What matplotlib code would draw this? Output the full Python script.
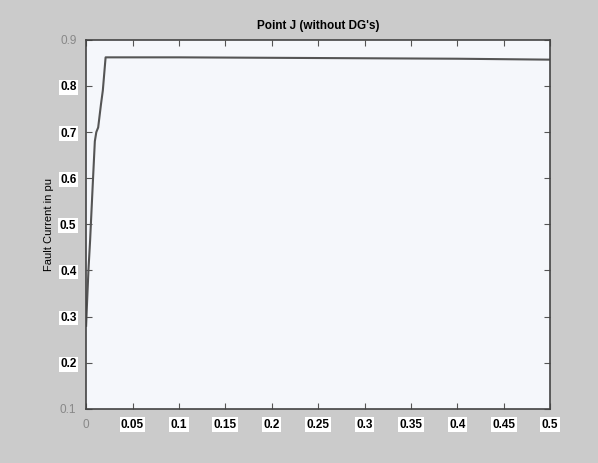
import matplotlib.pyplot as plt
import numpy as np

plt.rcParams['font.family'] = ['Liberation Sans', 'DejaVu Sans']

# fault current at point J, no distributed generation
time_s = [0.0, 0.001, 0.0025, 0.0043, 0.007, 0.0094, 0.011, 0.013, 0.016, 0.018, 0.021, 0.1, 0.2, 0.3, 0.4, 0.5]
current_pu = [0.28, 0.33, 0.40, 0.465, 0.58, 0.68, 0.70, 0.71, 0.76, 0.79, 0.862, 0.862, 0.861, 0.860, 0.859, 0.857]

xticks = [0, 0.05, 0.1, 0.15, 0.2, 0.25, 0.3, 0.35, 0.4, 0.45, 0.5]
xticklabels = ['0', '0.05', '0.1', '0.15', '0.2', '0.25', '0.3', '0.35', '0.4', '0.45', '0.5']
yticks = [0.1, 0.2, 0.3, 0.4, 0.5, 0.6, 0.7, 0.8, 0.9]
yticklabels = ['0.1', '0.2', '0.3', '0.4', '0.5', '0.6', '0.7', '0.8', '0.9']

fig = plt.figure(figsize=(5.98, 4.63), dpi=100, facecolor='#cbcbcb')
ax = fig.add_axes([0.144, 0.117, 0.776, 0.797])
ax.set_facecolor('#f5f7fb')

ax.plot(time_s, current_pu, color='#555555', lw=1.5)

ax.set_xlim(0, 0.5)
ax.set_ylim(0.1, 0.9)
ax.set_xticks(xticks)
ax.set_yticks(yticks)
ax.set_xticklabels(xticklabels, fontsize=8.5, fontweight='bold')
ax.set_yticklabels(yticklabels, fontsize=8.5, fontweight='bold')
ax.tick_params(direction='in', top=True, right=True, length=4, width=0.8,
               color='#555555', pad=7)
for lab in ax.get_xticklabels()[1:] + ax.get_yticklabels()[1:-1]:
    lab.set_bbox(dict(facecolor='white', edgecolor='none', pad=1.0))
for lab in (ax.get_xticklabels()[0], ax.get_yticklabels()[0], ax.get_yticklabels()[-1]):
    lab.set_color('#888888')
    lab.set_fontweight('normal')
for s in ax.spines.values():
    s.set_color('#444444')
    s.set_linewidth(1.2)

ax.set_title("Point J (without DG's)", fontsize=8.5, fontweight='bold', pad=8)
ax.set_ylabel('Fault Current in pu', fontsize=8, labelpad=4)

fig.savefig('out.png', dpi=100, facecolor=fig.get_facecolor())
